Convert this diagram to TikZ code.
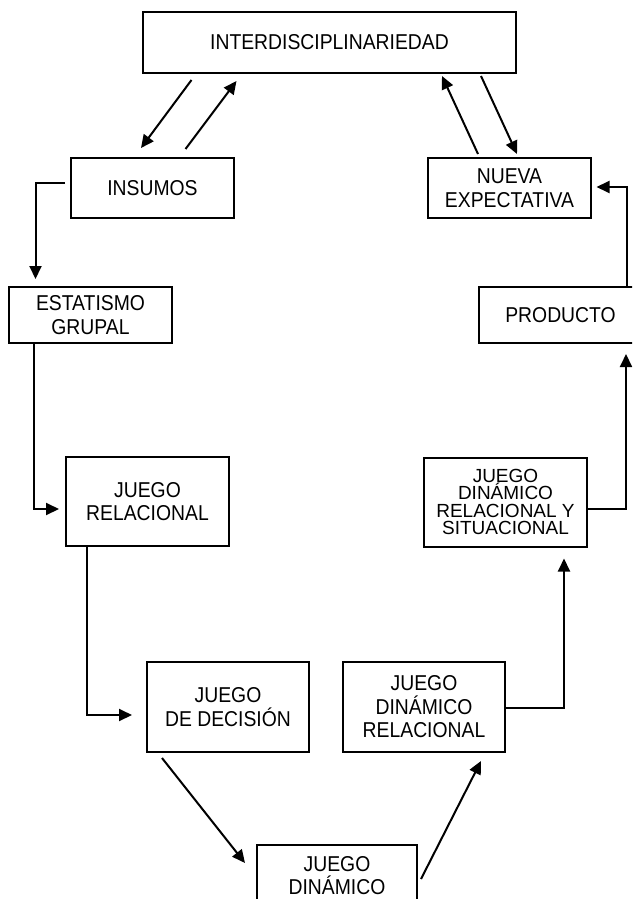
\documentclass[tikz,border=0pt]{standalone}
\usepackage{fontspec}
\setmainfont{Liberation Sans}[FakeStretch=0.9]
\newfontfamily\plainsans{Liberation Sans}
\usetikzlibrary{arrows.meta}
\begin{document}
\begin{tikzpicture}[x=1pt,y=-1pt,
  box/.style={draw,line width=2pt,minimum width=163pt,inner sep=0pt,align=center,
    font=\fontsize{21.5}{23.5}\selectfont},
  arr/.style={line width=2pt,-{Triangle[length=13pt,width=12pt]}}]
\useasboundingbox (0,0) rectangle (632,899);
\clip (0,0) rectangle (632,899);
\fill[white] (0,0) rectangle (632,899);
\node[box,minimum width=373pt,minimum height=61pt] (inter) at (329.5,42.5) {INTERDISCIPLINARIEDAD};
\node[box,minimum height=60pt] (insumos) at (152.5,188) {INSUMOS};
\node[box,minimum height=60pt] (nueva) at (509.5,188) {NUEVA\\EXPECTATIVA};
\node[box,minimum height=56pt] (estat) at (90.5,315) {ESTATISMO\\GRUPAL};
\node[box,minimum height=56pt] (producto) at (560.5,315) {PRODUCTO};
\node[box,minimum height=89pt] (jrel) at (147.5,501.5) {JUEGO\\RELACIONAL};
\node[box,minimum height=89pt,font=\plainsans\fontsize{19}{17.3}\selectfont] (jdrys) at (505.5,502) {JUEGO\\DINÁMICO\\RELACIONAL Y\\SITUACIONAL};
\node[box,minimum width=162pt,minimum height=90pt] (jdd) at (228,707) {JUEGO\\DE DECISIÓN};
\node[box,minimum width=162pt,minimum height=90pt] (jdr) at (424,707) {JUEGO\\DINÁMICO\\RELACIONAL};
\node[box,minimum width=160pt,minimum height=90pt] (jd) at (337,890) {JUEGO\\DINÁMICO\\[6pt]\phantom{X}};
% connectors
\draw[arr] ([xshift=-138pt,yshift=-6pt]inter.south) -- ([xshift=-11.5pt,yshift=9pt]insumos.north);
\draw[arr] ([xshift=33pt,yshift=8pt]insumos.north) -- ([xshift=-93pt,yshift=-7pt]inter.south);
\draw[arr] ([xshift=-31.5pt,yshift=3pt]nueva.north) -- ([xshift=112.5pt,yshift=-2pt]inter.south);
\draw[arr] ([xshift=151.5pt,yshift=-2pt]inter.south) -- ([xshift=7.5pt,yshift=3pt]nueva.north);
\draw[arr] ([xshift=-5pt,yshift=5pt]insumos.west) -| ([xshift=-55pt,yshift=7pt]estat.north);
\draw[arr] ([xshift=-56.5pt]estat.south) |- ([xshift=-6pt,yshift=-7.5pt]jrel.west);
\draw[arr] ([xshift=-60.5pt]jrel.south) |- ([xshift=-14pt,yshift=-8pt]jdd.west);
\draw[arr] ([xshift=-66pt,yshift=-5pt]jdd.south) -- ([xshift=-92pt,yshift=-19pt]jd.north);
\draw[arr] ([xshift=84pt,yshift=-35pt]jd.north) -- ([xshift=57pt,yshift=-8pt]jdr.south);
\draw[arr] ([yshift=-1pt]jdr.east) -| ([xshift=58.5pt,yshift=-11pt]jdrys.south);
\draw[arr] ([yshift=-6.5pt]jdrys.east) -| ([xshift=65.5pt,yshift=-10pt]producto.south);
\draw[arr] ([xshift=66.5pt]producto.north) |- ([xshift=4.5pt,yshift=1pt]nueva.east);
\end{tikzpicture}
\end{document}
